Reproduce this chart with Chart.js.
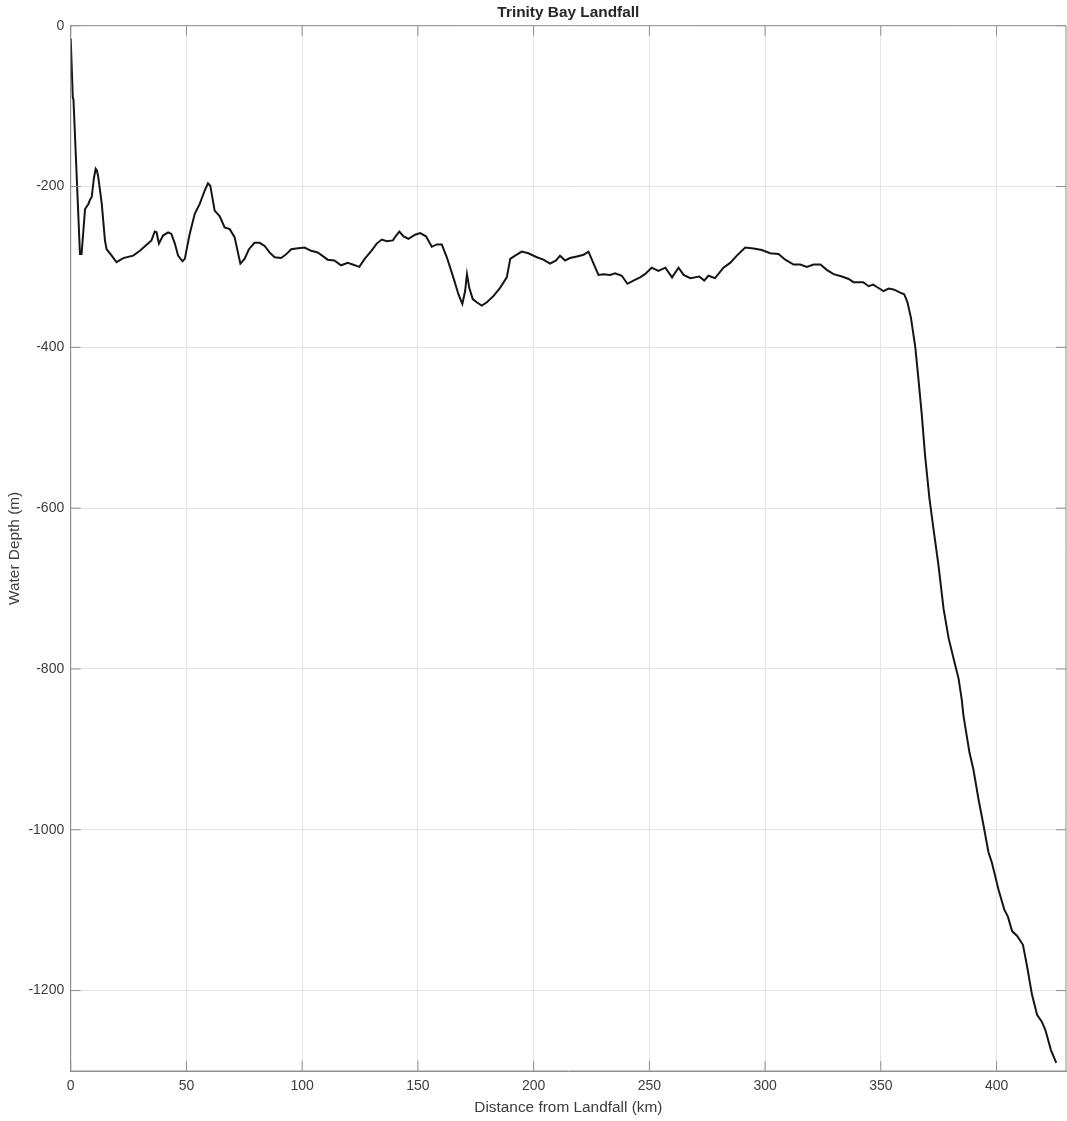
<!DOCTYPE html>
<html>
<head>
<meta charset="utf-8">
<title>Trinity Bay Landfall</title>
<script src="https://cdn.jsdelivr.net/npm/chart.js@4/dist/chart.umd.min.js"></script>
<style>
  html, body { margin: 0; padding: 0; background: #fff; }
  canvas { display: block; }
</style>
</head>
<body>
<canvas id="profile" width="1067" height="1121"></canvas>
<script>
// ==========================
// Profile data
// ==========================
const distanceKm = [
    0, 0.9, 1.2, 4.0, 4.7, 6.2, 7.6, 8.4, 9.1, 10.0, 10.8, 11.3, 11.9, 13.4, 14.8, 15.5, 17.7, 19.8,
    22.7, 27.0, 29.9, 33.4, 34.9, 36.3, 37.1, 38.1, 39.9, 42.1, 43.5, 45.0, 46.4, 48.3, 49.3,
    51.4, 53.6, 55.7, 57.9, 59.3, 60.3, 62.2, 64.4, 66.5, 68.7, 70.8, 73.3, 75.1, 77.0, 79.4,
    81.6, 83.8, 85.9, 88.1, 90.9, 92.8, 95.3, 97.4, 101.0, 103.9, 106.7, 108.2, 111.0, 113.9,
    116.8, 119.7, 121.8, 124.7, 127.0, 129.9, 132.2, 134.4, 136.6, 139.2, 140.6, 142.0, 143.8,
    145.9, 148.8, 151.0, 153.5, 156.0, 158.2, 160.3, 162.5, 165.3, 167.5, 169.2, 170.4, 171.2,
    172.2, 173.7, 175.4, 177.6, 179.8, 182.7, 185.5, 188.4, 189.9, 192.0, 194.9, 197.7, 201.4,
    204.2, 207.1, 209.7, 211.4, 213.6, 215.7, 218.7, 221.6, 223.7, 225.9, 228.0, 230.2, 233.1,
    235.2, 238.1, 240.5, 243.1, 246.0, 248.1, 251.0, 253.9, 256.9, 259.8, 262.6, 264.8, 267.7,
    271.6, 273.7, 275.5, 278.4, 282.0, 284.9, 287.8, 291.4, 295.0, 298.6, 302.2, 305.8, 308.7,
    312.3, 315.2, 318.0, 321.0, 323.9, 326.8, 329.6, 333.2, 336.1, 338.2, 342.4, 343.3, 344.7,
    346.7, 348.3, 351.2, 353.3, 355.5, 358.4, 360.1, 361.5, 363.0, 364.9, 366.2, 367.7, 369.1,
    371.0, 372.7, 374.9, 377.1, 379.3, 382.2, 383.6, 385.0, 385.7, 388.3, 390.0, 392.2, 394.4,
    396.5, 398.0, 400.8, 403.3, 404.9, 406.7, 408.9, 411.4, 413.2, 415.3, 417.5, 419.6, 421.1,
    423.5, 425.8
];

const depthM = [
    -16, -89, -92, -284, -284, -228, -222, -216, -213, -190, -178, -180, -188, -221, -267, -278, -286, -294,
    -289, -286, -280, -271, -267, -256, -257, -271, -261, -257, -259, -271, -286, -293, -290,
    -259, -234, -222, -205, -196, -199, -230, -237, -251, -253, -263, -296, -290, -278, -270,
    -270, -274, -282, -288, -289, -285, -278, -277, -276, -280, -282, -285, -291, -292,
    -298, -295, -297, -300, -290, -280, -271, -266, -268, -267, -261, -256, -262,
    -265, -260, -258, -262, -275, -272, -272, -288, -313, -334, -346, -330, -309,
    -326, -340, -344, -348, -344, -336, -326, -313, -290, -286, -281, -283, -288,
    -291, -296, -292, -286, -292, -289, -287, -285, -281, -296, -310, -309, -310,
    -308, -311, -321, -317, -313, -309, -301, -305, -301, -313, -301, -310, -314,
    -312, -317, -311, -314, -301, -295, -286, -276, -277, -279, -283, -284, -291,
    -297, -297, -300, -297, -297, -304, -309, -312, -315, -319, -319, -321, -324,
    -322, -325, -330, -327, -328, -332, -334, -344, -363, -400, -438, -484, -534,
    -588, -625, -671, -725, -762, -796, -812, -839, -858, -904, -925, -962, -995,
    -1028, -1041, -1074, -1099, -1108, -1126, -1132, -1143, -1170, -1205, -1230, -1239, -1249,
    -1274, -1290
];

const xLimits = [0, 430];
const yLimits = [-1300, 0];
const xTickStep = 50;
const yTickStep = 200;

// ==========================
// Look
// ==========================
const FONT = "'Liberation Sans', Arial, Helvetica, sans-serif";
const AXIS_COLOR = "#8f8f8f";
const GRID_COLOR = "#e4e4e4";
const TEXT_COLOR = "#3d3d3d";
const TICK_LEN = 10;

// closed box + inward ticks on all four sides (MATLAB look)
const boxTicks = {
    id: "boxTicks",
    afterDraw(chart) {
        const { ctx, chartArea: a, scales } = chart;
        ctx.save();
        ctx.strokeStyle = AXIS_COLOR;
        ctx.lineWidth = 1;
        ctx.beginPath();
        ctx.rect(a.left, a.top, a.right - a.left, a.bottom - a.top);
        scales.x.ticks.forEach(t => {
            const px = scales.x.getPixelForValue(t.value);
            ctx.moveTo(px, a.bottom); ctx.lineTo(px, a.bottom - TICK_LEN);
            ctx.moveTo(px, a.top); ctx.lineTo(px, a.top + TICK_LEN);
        });
        scales.y.ticks.forEach(t => {
            const py = scales.y.getPixelForValue(t.value);
            ctx.moveTo(a.left, py); ctx.lineTo(a.left + TICK_LEN, py);
            ctx.moveTo(a.right, py); ctx.lineTo(a.right - TICK_LEN, py);
        });
        ctx.stroke();
        ctx.restore();
    }
};

const points = distanceKm.map((d, i) => ({ x: d, y: depthM[i] }));

new Chart(document.getElementById("profile"), {
    type: "line",
    data: {
        datasets: [{
            label: "Depth",
            data: points,
            borderColor: "#151515",
            borderWidth: 2,
            pointRadius: 0,
            tension: 0,
            fill: false
        }]
    },
    options: {
        responsive: false,
        animation: false,
        layout: { padding: { left: 0, right: 1, top: 0, bottom: 0 } },
        plugins: {
            legend: { display: false },
            tooltip: { enabled: false },
            title: {
                display: true,
                text: "Trinity Bay Landfall",
                fullSize: false,
                color: "#262626",
                font: { family: FONT, size: 15.4, weight: "bold" },
                padding: { top: 4, bottom: 3.2 }
            }
        },
        scales: {
            x: {
                type: "linear",
                min: xLimits[0],
                max: xLimits[1],
                afterFit: s => { s.height = 50; },
                afterBuildTicks: s => { s.ticks = s.ticks.filter(t => t.value % xTickStep === 0); },
                ticks: {
                    stepSize: xTickStep,
                    color: TEXT_COLOR,
                    font: { family: FONT, size: 14 },
                    padding: 7,
                    maxRotation: 0,
                    callback: v => String(v)
                },
                grid: { color: GRID_COLOR, drawTicks: false },
                border: { color: AXIS_COLOR },
                title: {
                    display: true,
                    text: "Distance from Landfall (km)",
                    color: TEXT_COLOR,
                    font: { family: FONT, size: 15.4 },
                    padding: { top: 0, bottom: 4 }
                }
            },
            y: {
                type: "linear",
                min: yLimits[0],
                max: yLimits[1],
                afterFit: s => { s.width = 70.7; },
                afterBuildTicks: s => { s.ticks = s.ticks.filter(t => t.value % yTickStep === 0); },
                ticks: {
                    stepSize: yTickStep,
                    color: TEXT_COLOR,
                    font: { family: FONT, size: 14 },
                    padding: 6.5,
                    callback: v => String(v)
                },
                grid: { color: GRID_COLOR, drawTicks: false },
                border: { color: AXIS_COLOR },
                title: {
                    display: true,
                    text: "Water Depth (m)",
                    color: TEXT_COLOR,
                    font: { family: FONT, size: 15.4 },
                    padding: { top: 6, bottom: 0 }
                }
            }
        }
    },
    plugins: [boxTicks]
});
</script>
</body>
</html>
